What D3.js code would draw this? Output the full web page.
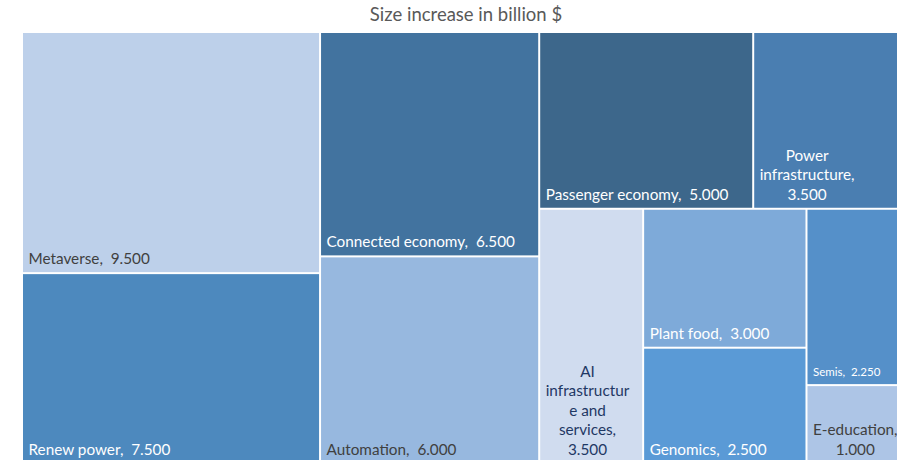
<!DOCTYPE html>
<html>
<head>
<meta charset="utf-8">
<script src="https://cdn.jsdelivr.net/npm/d3@7"></script>
<style>
  html, body { margin: 0; padding: 0; background: #ffffff; overflow: hidden; }
  svg { display: block; }
  text { font-family: Lato, "Open Sans", sans-serif; white-space: pre; }
</style>
</head>
<body>
<svg id="chart" width="897" height="460"></svg>
<script>
// Growth segments and their size increase (billion $)
const categories = [
  "Metaverse", "Renew power", "Connected economy", "Automation",
  "Passenger economy", "Power infrastructure", "AI infrastructure and services",
  "Plant food", "Genomics", "Semis", "E-education"
];
const values = [9.5, 7.5, 6.5, 6.0, 5.0, 3.5, 3.5, 3.0, 2.5, 2.25, 1.0];

// Fill colour per segment
const fills = [
  "#bdd0ea", "#4d89be", "#42739f", "#97b8df",
  "#3d678b", "#4a7eb1", "#d0dcef",
  "#7eaad9", "#5a9ad6", "#5590c9", "#adc5e6"
];
// Label colour per segment
const labelColors = [
  "#404040", "#ffffff", "#ffffff", "#404040",
  "#ffffff", "#ffffff", "#1f3864",
  "#ffffff", "#ffffff", "#ffffff", "#404040"
];
// Label font size per segment
const labelSizes = [15.3, 15.3, 15.3, 15.3, 15.3, 15.3, 15.3, 15.3, 15.3, 11.5, 15.3];
// Wrapping width for labels that use a wider text box than the default
const wrapWidths = { "E-education": 90 };

// Grouping of the tiles: columns -> rows -> stacks
const tiling = [
  ["Metaverse", "Renew power"],
  ["Connected economy", "Automation"],
  [
    ["Passenger economy", "Power infrastructure"],
    ["AI infrastructure and services", ["Plant food", "Genomics"], ["Semis", "E-education"]]
  ]
];

const svg = d3.select("#chart");
const margin = { left: 23, top: 33 };
const width = 879, height = 429.5;

function build(node) {
  if (typeof node === "string") {
    const i = categories.indexOf(node);
    return { name: node, index: i, value: values[i] };
  }
  return { children: node.map(build) };
}

const root = d3.hierarchy(build(tiling))
  .sum(d => d.children ? 0 : d.value);

d3.treemap()
  .tile(d3.treemapSliceDice)
  .size([width, height])
  .paddingInner(2)
  .round(false)(root);

svg.append("text")
  .attr("x", 466)
  .attr("y", 21)
  .attr("text-anchor", "middle")
  .attr("font-size", 18.5)
  .attr("fill", "#595959")
  .text("Size increase in billion $");

const g = svg.append("g").attr("transform", `translate(${margin.left},${margin.top})`);

const leaves = root.leaves();

g.selectAll("rect")
  .data(leaves)
  .join("rect")
  .attr("x", d => d.x0)
  .attr("y", d => d.y0)
  .attr("width", d => d.x1 - d.x0)
  .attr("height", d => d.y1 - d.y0)
  .attr("fill", d => fills[d.data.index]);

// Text measuring helper
const probe = svg.append("text").attr("visibility", "hidden");
function measure(str, size) {
  probe.attr("font-size", size).text(str);
  return probe.node().getComputedTextLength();
}

// Wrap words into lines of at most maxW; split words that are too long
function wrap(words, size, maxW) {
  const lines = [];
  let cur = "";
  for (let w of words) {
    const trial = cur ? cur + " " + w : w;
    if (measure(trial, size) <= maxW) { cur = trial; continue; }
    if (cur) { lines.push(cur); cur = ""; }
    while (measure(w, size) > maxW) {
      let k = w.length - 1;
      while (k > 1 && measure(w.slice(0, k), size) > maxW) k--;
      lines.push(w.slice(0, k));
      w = w.slice(k);
    }
    cur = w;
  }
  if (cur) lines.push(cur);
  return lines.map(l => l.replace(/\u00a0$/, ""));
}

const lineH = 19.5;
leaves.forEach(d => {
  const i = d.data.index;
  const size = labelSizes[i];
  const words = categories[i].split(" ");
  words[words.length - 1] += ",\u00a0";
  words.push(values[i].toFixed(3));
  const maxW = wrapWidths[categories[i]] || (d.x1 - d.x0) - 14;
  const lines = wrap(words, size, maxW);
  const blockW = d3.max(lines, l => measure(l, size));
  const left = d.x0 + 5.5;
  const t = g.append("text")
    .attr("font-size", size)
    .attr("fill", labelColors[i])
    .attr("text-anchor", lines.length > 1 ? "middle" : "start");
  lines.forEach((l, k) => {
    t.append("tspan")
      .attr("x", lines.length > 1 ? left + blockW / 2 : left)
      .attr("y", d.y1 - 8 - (lines.length - 1 - k) * lineH)
      .text(l);
  });
});
probe.remove();
</script>
</body>
</html>
